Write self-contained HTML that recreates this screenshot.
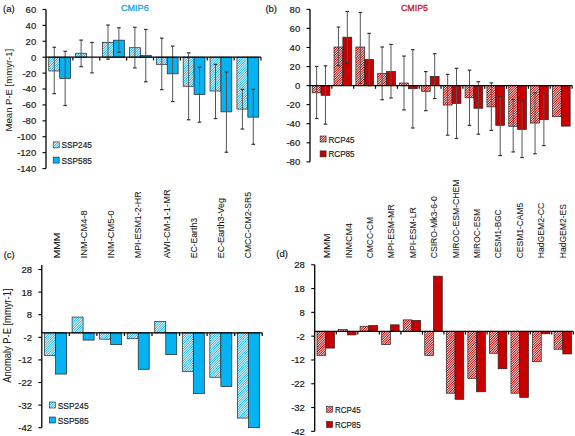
<!DOCTYPE html>
<html><head><meta charset="utf-8"><style>
html,body{margin:0;padding:0;background:#fff;width:575px;height:436px;overflow:hidden}
svg{display:block}
.t{font-family:"Liberation Sans", sans-serif;font-size:9.5px;fill:#1a1a1a;stroke:#1a1a1a;stroke-width:0.2px}
.ax{font-family:"Liberation Sans", sans-serif;font-size:10.2px;fill:#1a1a1a;stroke:#1a1a1a;stroke-width:0.05px}
.c{font-family:"Liberation Sans", sans-serif;font-size:9.2px;fill:#1a1a1a;stroke:#1a1a1a;stroke-width:0.08px}
</style></head><body>
<svg width="575" height="436" viewBox="0 0 575 436">
<defs>
<pattern id="hb" patternUnits="userSpaceOnUse" width="1.7" height="1.7" patternTransform="rotate(45)">
<rect width="1.7" height="1.7" fill="#ffffff"/><rect width="0.82" height="1.7" fill="#06B3F2"/></pattern>
<pattern id="hr" patternUnits="userSpaceOnUse" width="1.7" height="1.7" patternTransform="rotate(45)">
<rect width="1.7" height="1.7" fill="#ffffff"/><rect width="0.95" height="1.7" fill="#C80000"/></pattern>
</defs>
<rect x="48.80" y="57.20" width="10.90" height="13.78" fill="url(#hb)" stroke="#222" stroke-width="0.7"/>
<rect x="59.70" y="57.20" width="10.90" height="21.23" fill="#06B3F2" stroke="#222" stroke-width="0.7"/>
<rect x="75.67" y="53.24" width="10.90" height="3.96" fill="url(#hb)" stroke="#222" stroke-width="0.7"/>
<rect x="86.58" y="57.20" width="10.90" height="0.00" fill="#06B3F2" stroke="#222" stroke-width="0.7"/>
<rect x="102.55" y="42.35" width="10.90" height="14.85" fill="url(#hb)" stroke="#222" stroke-width="0.7"/>
<rect x="113.45" y="40.17" width="10.90" height="17.03" fill="#06B3F2" stroke="#222" stroke-width="0.7"/>
<rect x="129.43" y="47.70" width="10.90" height="9.50" fill="url(#hb)" stroke="#222" stroke-width="0.7"/>
<rect x="140.33" y="55.62" width="10.90" height="1.58" fill="#06B3F2" stroke="#222" stroke-width="0.7"/>
<rect x="156.30" y="57.20" width="10.90" height="7.13" fill="url(#hb)" stroke="#222" stroke-width="0.7"/>
<rect x="167.20" y="57.20" width="10.90" height="16.63" fill="#06B3F2" stroke="#222" stroke-width="0.7"/>
<rect x="183.18" y="57.20" width="10.90" height="29.07" fill="url(#hb)" stroke="#222" stroke-width="0.7"/>
<rect x="194.08" y="57.20" width="10.90" height="37.22" fill="#06B3F2" stroke="#222" stroke-width="0.7"/>
<rect x="210.05" y="57.20" width="10.90" height="33.82" fill="url(#hb)" stroke="#222" stroke-width="0.7"/>
<rect x="220.95" y="57.20" width="10.90" height="54.65" fill="#06B3F2" stroke="#222" stroke-width="0.7"/>
<rect x="236.93" y="57.20" width="10.90" height="51.88" fill="url(#hb)" stroke="#222" stroke-width="0.7"/>
<rect x="247.83" y="57.20" width="10.90" height="59.95" fill="#06B3F2" stroke="#222" stroke-width="0.7"/>
<line x1="54.25" y1="47.22" x2="54.25" y2="93.63" stroke="#555" stroke-width="1"/>
<line x1="52.45" y1="47.22" x2="56.05" y2="47.22" stroke="#333" stroke-width="1.2"/>
<line x1="52.45" y1="93.63" x2="56.05" y2="93.63" stroke="#333" stroke-width="1.2"/>
<line x1="65.15" y1="51.34" x2="65.15" y2="105.51" stroke="#555" stroke-width="1"/>
<line x1="63.35" y1="51.34" x2="66.95" y2="51.34" stroke="#333" stroke-width="1.2"/>
<line x1="63.35" y1="105.51" x2="66.95" y2="105.51" stroke="#333" stroke-width="1.2"/>
<line x1="81.12" y1="40.09" x2="81.12" y2="66.62" stroke="#555" stroke-width="1"/>
<line x1="79.33" y1="40.09" x2="82.92" y2="40.09" stroke="#333" stroke-width="1.2"/>
<line x1="79.33" y1="66.62" x2="82.92" y2="66.62" stroke="#333" stroke-width="1.2"/>
<line x1="92.03" y1="42.47" x2="92.03" y2="72.88" stroke="#555" stroke-width="1"/>
<line x1="90.23" y1="42.47" x2="93.83" y2="42.47" stroke="#333" stroke-width="1.2"/>
<line x1="90.23" y1="72.88" x2="93.83" y2="72.88" stroke="#333" stroke-width="1.2"/>
<line x1="108.00" y1="25.04" x2="108.00" y2="59.18" stroke="#555" stroke-width="1"/>
<line x1="106.20" y1="25.04" x2="109.80" y2="25.04" stroke="#333" stroke-width="1.2"/>
<line x1="106.20" y1="59.18" x2="109.80" y2="59.18" stroke="#333" stroke-width="1.2"/>
<line x1="118.90" y1="27.74" x2="118.90" y2="52.29" stroke="#555" stroke-width="1"/>
<line x1="117.10" y1="27.74" x2="120.70" y2="27.74" stroke="#333" stroke-width="1.2"/>
<line x1="117.10" y1="52.29" x2="120.70" y2="52.29" stroke="#333" stroke-width="1.2"/>
<line x1="134.88" y1="27.34" x2="134.88" y2="67.89" stroke="#555" stroke-width="1"/>
<line x1="133.07" y1="27.34" x2="136.68" y2="27.34" stroke="#333" stroke-width="1.2"/>
<line x1="133.07" y1="67.89" x2="136.68" y2="67.89" stroke="#333" stroke-width="1.2"/>
<line x1="145.78" y1="29.48" x2="145.78" y2="81.75" stroke="#555" stroke-width="1"/>
<line x1="143.97" y1="29.48" x2="147.58" y2="29.48" stroke="#333" stroke-width="1.2"/>
<line x1="143.97" y1="81.75" x2="147.58" y2="81.75" stroke="#333" stroke-width="1.2"/>
<line x1="161.75" y1="38.19" x2="161.75" y2="89.67" stroke="#555" stroke-width="1"/>
<line x1="159.95" y1="38.19" x2="163.55" y2="38.19" stroke="#333" stroke-width="1.2"/>
<line x1="159.95" y1="89.67" x2="163.55" y2="89.67" stroke="#333" stroke-width="1.2"/>
<line x1="172.65" y1="46.11" x2="172.65" y2="101.55" stroke="#555" stroke-width="1"/>
<line x1="170.85" y1="46.11" x2="174.45" y2="46.11" stroke="#333" stroke-width="1.2"/>
<line x1="170.85" y1="101.55" x2="174.45" y2="101.55" stroke="#333" stroke-width="1.2"/>
<line x1="188.62" y1="52.84" x2="188.62" y2="119.77" stroke="#555" stroke-width="1"/>
<line x1="186.82" y1="52.84" x2="190.43" y2="52.84" stroke="#333" stroke-width="1.2"/>
<line x1="186.82" y1="119.77" x2="190.43" y2="119.77" stroke="#333" stroke-width="1.2"/>
<line x1="199.53" y1="67.10" x2="199.53" y2="122.14" stroke="#555" stroke-width="1"/>
<line x1="197.72" y1="67.10" x2="201.33" y2="67.10" stroke="#333" stroke-width="1.2"/>
<line x1="197.72" y1="122.14" x2="201.33" y2="122.14" stroke="#333" stroke-width="1.2"/>
<line x1="215.50" y1="64.33" x2="215.50" y2="118.58" stroke="#555" stroke-width="1"/>
<line x1="213.70" y1="64.33" x2="217.30" y2="64.33" stroke="#333" stroke-width="1.2"/>
<line x1="213.70" y1="118.58" x2="217.30" y2="118.58" stroke="#333" stroke-width="1.2"/>
<line x1="226.40" y1="72.01" x2="226.40" y2="152.24" stroke="#555" stroke-width="1"/>
<line x1="224.60" y1="72.01" x2="228.20" y2="72.01" stroke="#333" stroke-width="1.2"/>
<line x1="224.60" y1="152.24" x2="228.20" y2="152.24" stroke="#333" stroke-width="1.2"/>
<line x1="242.38" y1="89.36" x2="242.38" y2="129.03" stroke="#555" stroke-width="1"/>
<line x1="240.57" y1="89.36" x2="244.18" y2="89.36" stroke="#333" stroke-width="1.2"/>
<line x1="240.57" y1="129.03" x2="244.18" y2="129.03" stroke="#333" stroke-width="1.2"/>
<line x1="253.28" y1="89.36" x2="253.28" y2="144.32" stroke="#555" stroke-width="1"/>
<line x1="251.47" y1="89.36" x2="255.08" y2="89.36" stroke="#333" stroke-width="1.2"/>
<line x1="251.47" y1="144.32" x2="255.08" y2="144.32" stroke="#333" stroke-width="1.2"/>
<line x1="46.00" y1="9.47" x2="46.00" y2="168.57" stroke="#000" stroke-width="1.3"/>
<line x1="42.50" y1="9.47" x2="46.00" y2="9.47" stroke="#000" stroke-width="1.1"/>
<text x="36.20" y="12.87" text-anchor="end" class="t">60</text>
<line x1="42.50" y1="25.38" x2="46.00" y2="25.38" stroke="#000" stroke-width="1.1"/>
<text x="36.20" y="28.78" text-anchor="end" class="t">40</text>
<line x1="42.50" y1="41.29" x2="46.00" y2="41.29" stroke="#000" stroke-width="1.1"/>
<text x="36.20" y="44.69" text-anchor="end" class="t">20</text>
<line x1="42.50" y1="57.20" x2="46.00" y2="57.20" stroke="#000" stroke-width="1.1"/>
<text x="36.20" y="60.60" text-anchor="end" class="t">0</text>
<line x1="42.50" y1="73.11" x2="46.00" y2="73.11" stroke="#000" stroke-width="1.1"/>
<text x="36.20" y="76.51" text-anchor="end" class="t">-20</text>
<line x1="42.50" y1="89.02" x2="46.00" y2="89.02" stroke="#000" stroke-width="1.1"/>
<text x="36.20" y="92.42" text-anchor="end" class="t">-40</text>
<line x1="42.50" y1="104.93" x2="46.00" y2="104.93" stroke="#000" stroke-width="1.1"/>
<text x="36.20" y="108.33" text-anchor="end" class="t">-60</text>
<line x1="42.50" y1="120.84" x2="46.00" y2="120.84" stroke="#000" stroke-width="1.1"/>
<text x="36.20" y="124.24" text-anchor="end" class="t">-80</text>
<line x1="42.50" y1="136.75" x2="46.00" y2="136.75" stroke="#000" stroke-width="1.1"/>
<text x="36.20" y="140.15" text-anchor="end" class="t">-100</text>
<line x1="42.50" y1="152.66" x2="46.00" y2="152.66" stroke="#000" stroke-width="1.1"/>
<text x="36.20" y="156.06" text-anchor="end" class="t">-120</text>
<line x1="42.50" y1="168.57" x2="46.00" y2="168.57" stroke="#000" stroke-width="1.1"/>
<text x="36.20" y="171.97" text-anchor="end" class="t">-140</text>
<line x1="46.00" y1="57.20" x2="261.00" y2="57.20" stroke="#000" stroke-width="1.3"/>
<line x1="72.88" y1="57.20" x2="72.88" y2="60.40" stroke="#000" stroke-width="1.2"/>
<line x1="99.75" y1="57.20" x2="99.75" y2="60.40" stroke="#000" stroke-width="1.2"/>
<line x1="126.62" y1="57.20" x2="126.62" y2="60.40" stroke="#000" stroke-width="1.2"/>
<line x1="153.50" y1="57.20" x2="153.50" y2="60.40" stroke="#000" stroke-width="1.2"/>
<line x1="180.38" y1="57.20" x2="180.38" y2="60.40" stroke="#000" stroke-width="1.2"/>
<line x1="207.25" y1="57.20" x2="207.25" y2="60.40" stroke="#000" stroke-width="1.2"/>
<line x1="234.12" y1="57.20" x2="234.12" y2="60.40" stroke="#000" stroke-width="1.2"/>
<line x1="261.00" y1="57.20" x2="261.00" y2="60.40" stroke="#000" stroke-width="1.2"/>
<rect x="312.20" y="85.60" width="8.85" height="7.24" fill="url(#hr)" stroke="#222" stroke-width="0.7"/>
<rect x="321.05" y="85.60" width="8.85" height="9.72" fill="#C80000" stroke="#222" stroke-width="0.7"/>
<rect x="334.04" y="47.00" width="8.85" height="38.60" fill="url(#hr)" stroke="#222" stroke-width="0.7"/>
<rect x="342.89" y="37.19" width="8.85" height="48.41" fill="#C80000" stroke="#222" stroke-width="0.7"/>
<rect x="355.88" y="47.00" width="8.85" height="38.60" fill="url(#hr)" stroke="#222" stroke-width="0.7"/>
<rect x="364.73" y="59.49" width="8.85" height="26.11" fill="#C80000" stroke="#222" stroke-width="0.7"/>
<rect x="377.72" y="73.59" width="8.85" height="12.01" fill="url(#hr)" stroke="#222" stroke-width="0.7"/>
<rect x="386.57" y="71.50" width="8.85" height="14.10" fill="#C80000" stroke="#222" stroke-width="0.7"/>
<rect x="399.56" y="83.03" width="8.85" height="2.57" fill="url(#hr)" stroke="#222" stroke-width="0.7"/>
<rect x="408.41" y="85.60" width="8.85" height="3.14" fill="#C80000" stroke="#222" stroke-width="0.7"/>
<rect x="421.40" y="85.60" width="8.85" height="5.72" fill="url(#hr)" stroke="#222" stroke-width="0.7"/>
<rect x="430.25" y="76.36" width="8.85" height="9.24" fill="#C80000" stroke="#222" stroke-width="0.7"/>
<rect x="443.24" y="85.60" width="8.85" height="19.44" fill="url(#hr)" stroke="#222" stroke-width="0.7"/>
<rect x="452.09" y="85.60" width="8.85" height="17.82" fill="#C80000" stroke="#222" stroke-width="0.7"/>
<rect x="465.08" y="85.60" width="8.85" height="12.20" fill="url(#hr)" stroke="#222" stroke-width="0.7"/>
<rect x="473.93" y="85.60" width="8.85" height="22.68" fill="#C80000" stroke="#222" stroke-width="0.7"/>
<rect x="486.92" y="85.60" width="8.85" height="21.25" fill="url(#hr)" stroke="#222" stroke-width="0.7"/>
<rect x="495.77" y="85.60" width="8.85" height="39.74" fill="#C80000" stroke="#222" stroke-width="0.7"/>
<rect x="508.76" y="85.60" width="8.85" height="40.69" fill="url(#hr)" stroke="#222" stroke-width="0.7"/>
<rect x="517.61" y="85.60" width="8.85" height="43.74" fill="#C80000" stroke="#222" stroke-width="0.7"/>
<rect x="530.60" y="85.60" width="8.85" height="37.45" fill="url(#hr)" stroke="#222" stroke-width="0.7"/>
<rect x="539.45" y="85.60" width="8.85" height="34.12" fill="#C80000" stroke="#222" stroke-width="0.7"/>
<rect x="552.44" y="85.60" width="8.85" height="31.16" fill="url(#hr)" stroke="#222" stroke-width="0.7"/>
<rect x="561.29" y="85.60" width="8.85" height="40.50" fill="#C80000" stroke="#222" stroke-width="0.7"/>
<line x1="316.62" y1="66.44" x2="316.62" y2="118.48" stroke="#555" stroke-width="1"/>
<line x1="314.82" y1="66.44" x2="318.43" y2="66.44" stroke="#333" stroke-width="1.2"/>
<line x1="314.82" y1="118.48" x2="318.43" y2="118.48" stroke="#333" stroke-width="1.2"/>
<line x1="325.48" y1="65.78" x2="325.48" y2="124.20" stroke="#555" stroke-width="1"/>
<line x1="323.68" y1="65.78" x2="327.28" y2="65.78" stroke="#333" stroke-width="1.2"/>
<line x1="323.68" y1="124.20" x2="327.28" y2="124.20" stroke="#333" stroke-width="1.2"/>
<line x1="338.46" y1="27.09" x2="338.46" y2="65.68" stroke="#555" stroke-width="1"/>
<line x1="336.66" y1="27.09" x2="340.26" y2="27.09" stroke="#333" stroke-width="1.2"/>
<line x1="336.66" y1="65.68" x2="340.26" y2="65.68" stroke="#333" stroke-width="1.2"/>
<line x1="347.31" y1="11.46" x2="347.31" y2="62.73" stroke="#555" stroke-width="1"/>
<line x1="345.51" y1="11.46" x2="349.12" y2="11.46" stroke="#333" stroke-width="1.2"/>
<line x1="345.51" y1="62.73" x2="349.12" y2="62.73" stroke="#333" stroke-width="1.2"/>
<line x1="360.31" y1="12.50" x2="360.31" y2="83.41" stroke="#555" stroke-width="1"/>
<line x1="358.50" y1="12.50" x2="362.11" y2="12.50" stroke="#333" stroke-width="1.2"/>
<line x1="358.50" y1="83.41" x2="362.11" y2="83.41" stroke="#333" stroke-width="1.2"/>
<line x1="369.16" y1="33.38" x2="369.16" y2="85.60" stroke="#555" stroke-width="1"/>
<line x1="367.36" y1="33.38" x2="370.96" y2="33.38" stroke="#333" stroke-width="1.2"/>
<line x1="367.36" y1="85.60" x2="370.96" y2="85.60" stroke="#333" stroke-width="1.2"/>
<line x1="382.14" y1="47.00" x2="382.14" y2="99.70" stroke="#555" stroke-width="1"/>
<line x1="380.34" y1="47.00" x2="383.94" y2="47.00" stroke="#333" stroke-width="1.2"/>
<line x1="380.34" y1="99.70" x2="383.94" y2="99.70" stroke="#333" stroke-width="1.2"/>
<line x1="391.00" y1="44.43" x2="391.00" y2="97.99" stroke="#555" stroke-width="1"/>
<line x1="389.19" y1="44.43" x2="392.80" y2="44.43" stroke="#333" stroke-width="1.2"/>
<line x1="389.19" y1="97.99" x2="392.80" y2="97.99" stroke="#333" stroke-width="1.2"/>
<line x1="403.99" y1="56.06" x2="403.99" y2="109.90" stroke="#555" stroke-width="1"/>
<line x1="402.19" y1="56.06" x2="405.79" y2="56.06" stroke="#333" stroke-width="1.2"/>
<line x1="402.19" y1="109.90" x2="405.79" y2="109.90" stroke="#333" stroke-width="1.2"/>
<line x1="412.84" y1="49.67" x2="412.84" y2="128.01" stroke="#555" stroke-width="1"/>
<line x1="411.04" y1="49.67" x2="414.64" y2="49.67" stroke="#333" stroke-width="1.2"/>
<line x1="411.04" y1="128.01" x2="414.64" y2="128.01" stroke="#333" stroke-width="1.2"/>
<line x1="425.82" y1="71.59" x2="425.82" y2="110.66" stroke="#555" stroke-width="1"/>
<line x1="424.02" y1="71.59" x2="427.62" y2="71.59" stroke="#333" stroke-width="1.2"/>
<line x1="424.02" y1="110.66" x2="427.62" y2="110.66" stroke="#333" stroke-width="1.2"/>
<line x1="434.68" y1="53.67" x2="434.68" y2="98.56" stroke="#555" stroke-width="1"/>
<line x1="432.88" y1="53.67" x2="436.48" y2="53.67" stroke="#333" stroke-width="1.2"/>
<line x1="432.88" y1="98.56" x2="436.48" y2="98.56" stroke="#333" stroke-width="1.2"/>
<line x1="447.66" y1="74.35" x2="447.66" y2="135.16" stroke="#555" stroke-width="1"/>
<line x1="445.86" y1="74.35" x2="449.46" y2="74.35" stroke="#333" stroke-width="1.2"/>
<line x1="445.86" y1="135.16" x2="449.46" y2="135.16" stroke="#333" stroke-width="1.2"/>
<line x1="456.51" y1="68.26" x2="456.51" y2="138.49" stroke="#555" stroke-width="1"/>
<line x1="454.71" y1="68.26" x2="458.31" y2="68.26" stroke="#333" stroke-width="1.2"/>
<line x1="454.71" y1="138.49" x2="458.31" y2="138.49" stroke="#333" stroke-width="1.2"/>
<line x1="469.50" y1="70.16" x2="469.50" y2="125.34" stroke="#555" stroke-width="1"/>
<line x1="467.70" y1="70.16" x2="471.31" y2="70.16" stroke="#333" stroke-width="1.2"/>
<line x1="467.70" y1="125.34" x2="471.31" y2="125.34" stroke="#333" stroke-width="1.2"/>
<line x1="478.36" y1="81.69" x2="478.36" y2="134.20" stroke="#555" stroke-width="1"/>
<line x1="476.56" y1="81.69" x2="480.16" y2="81.69" stroke="#333" stroke-width="1.2"/>
<line x1="476.56" y1="134.20" x2="480.16" y2="134.20" stroke="#333" stroke-width="1.2"/>
<line x1="491.35" y1="82.93" x2="491.35" y2="130.39" stroke="#555" stroke-width="1"/>
<line x1="489.55" y1="82.93" x2="493.15" y2="82.93" stroke="#333" stroke-width="1.2"/>
<line x1="489.55" y1="130.39" x2="493.15" y2="130.39" stroke="#333" stroke-width="1.2"/>
<line x1="500.20" y1="96.37" x2="500.20" y2="155.55" stroke="#555" stroke-width="1"/>
<line x1="498.40" y1="96.37" x2="502.00" y2="96.37" stroke="#333" stroke-width="1.2"/>
<line x1="498.40" y1="155.55" x2="502.00" y2="155.55" stroke="#333" stroke-width="1.2"/>
<line x1="513.18" y1="99.61" x2="513.18" y2="151.93" stroke="#555" stroke-width="1"/>
<line x1="511.38" y1="99.61" x2="514.98" y2="99.61" stroke="#333" stroke-width="1.2"/>
<line x1="511.38" y1="151.93" x2="514.98" y2="151.93" stroke="#333" stroke-width="1.2"/>
<line x1="522.03" y1="101.04" x2="522.03" y2="157.55" stroke="#555" stroke-width="1"/>
<line x1="520.24" y1="101.04" x2="523.83" y2="101.04" stroke="#333" stroke-width="1.2"/>
<line x1="520.24" y1="157.55" x2="523.83" y2="157.55" stroke="#333" stroke-width="1.2"/>
<line x1="535.02" y1="92.84" x2="535.02" y2="153.74" stroke="#555" stroke-width="1"/>
<line x1="533.23" y1="92.84" x2="536.82" y2="92.84" stroke="#333" stroke-width="1.2"/>
<line x1="533.23" y1="153.74" x2="536.82" y2="153.74" stroke="#333" stroke-width="1.2"/>
<line x1="543.88" y1="93.51" x2="543.88" y2="145.64" stroke="#555" stroke-width="1"/>
<line x1="542.08" y1="93.51" x2="545.67" y2="93.51" stroke="#333" stroke-width="1.2"/>
<line x1="542.08" y1="145.64" x2="545.67" y2="145.64" stroke="#333" stroke-width="1.2"/>
<line x1="310.00" y1="9.36" x2="310.00" y2="161.84" stroke="#000" stroke-width="1.3"/>
<line x1="306.50" y1="9.36" x2="310.00" y2="9.36" stroke="#000" stroke-width="1.1"/>
<text x="300.20" y="12.76" text-anchor="end" class="t">80</text>
<line x1="306.50" y1="28.42" x2="310.00" y2="28.42" stroke="#000" stroke-width="1.1"/>
<text x="300.20" y="31.82" text-anchor="end" class="t">60</text>
<line x1="306.50" y1="47.48" x2="310.00" y2="47.48" stroke="#000" stroke-width="1.1"/>
<text x="300.20" y="50.88" text-anchor="end" class="t">40</text>
<line x1="306.50" y1="66.54" x2="310.00" y2="66.54" stroke="#000" stroke-width="1.1"/>
<text x="300.20" y="69.94" text-anchor="end" class="t">20</text>
<line x1="306.50" y1="85.60" x2="310.00" y2="85.60" stroke="#000" stroke-width="1.1"/>
<text x="300.20" y="89.00" text-anchor="end" class="t">0</text>
<line x1="306.50" y1="104.66" x2="310.00" y2="104.66" stroke="#000" stroke-width="1.1"/>
<text x="300.20" y="108.06" text-anchor="end" class="t">-20</text>
<line x1="306.50" y1="123.72" x2="310.00" y2="123.72" stroke="#000" stroke-width="1.1"/>
<text x="300.20" y="127.12" text-anchor="end" class="t">-40</text>
<line x1="306.50" y1="142.78" x2="310.00" y2="142.78" stroke="#000" stroke-width="1.1"/>
<text x="300.20" y="146.18" text-anchor="end" class="t">-60</text>
<line x1="306.50" y1="161.84" x2="310.00" y2="161.84" stroke="#000" stroke-width="1.1"/>
<text x="300.20" y="165.24" text-anchor="end" class="t">-80</text>
<line x1="310.00" y1="85.60" x2="572.08" y2="85.60" stroke="#000" stroke-width="1.3"/>
<line x1="331.84" y1="85.60" x2="331.84" y2="88.80" stroke="#000" stroke-width="1.2"/>
<line x1="353.68" y1="85.60" x2="353.68" y2="88.80" stroke="#000" stroke-width="1.2"/>
<line x1="375.52" y1="85.60" x2="375.52" y2="88.80" stroke="#000" stroke-width="1.2"/>
<line x1="397.36" y1="85.60" x2="397.36" y2="88.80" stroke="#000" stroke-width="1.2"/>
<line x1="419.20" y1="85.60" x2="419.20" y2="88.80" stroke="#000" stroke-width="1.2"/>
<line x1="441.04" y1="85.60" x2="441.04" y2="88.80" stroke="#000" stroke-width="1.2"/>
<line x1="462.88" y1="85.60" x2="462.88" y2="88.80" stroke="#000" stroke-width="1.2"/>
<line x1="484.72" y1="85.60" x2="484.72" y2="88.80" stroke="#000" stroke-width="1.2"/>
<line x1="506.56" y1="85.60" x2="506.56" y2="88.80" stroke="#000" stroke-width="1.2"/>
<line x1="528.40" y1="85.60" x2="528.40" y2="88.80" stroke="#000" stroke-width="1.2"/>
<line x1="550.24" y1="85.60" x2="550.24" y2="88.80" stroke="#000" stroke-width="1.2"/>
<line x1="572.08" y1="85.60" x2="572.08" y2="88.80" stroke="#000" stroke-width="1.2"/>
<rect x="44.55" y="332.80" width="11.00" height="22.57" fill="url(#hb)" stroke="#222" stroke-width="0.7"/>
<rect x="55.55" y="332.80" width="11.00" height="41.27" fill="#06B3F2" stroke="#222" stroke-width="0.7"/>
<rect x="72.10" y="317.07" width="11.00" height="15.73" fill="url(#hb)" stroke="#222" stroke-width="0.7"/>
<rect x="83.10" y="332.80" width="11.00" height="7.30" fill="#06B3F2" stroke="#222" stroke-width="0.7"/>
<rect x="99.65" y="332.80" width="11.00" height="6.38" fill="url(#hb)" stroke="#222" stroke-width="0.7"/>
<rect x="110.65" y="332.80" width="11.00" height="11.86" fill="#06B3F2" stroke="#222" stroke-width="0.7"/>
<rect x="127.20" y="332.80" width="11.00" height="5.93" fill="url(#hb)" stroke="#222" stroke-width="0.7"/>
<rect x="138.20" y="332.80" width="11.00" height="36.48" fill="#06B3F2" stroke="#222" stroke-width="0.7"/>
<rect x="154.75" y="321.40" width="11.00" height="11.40" fill="url(#hb)" stroke="#222" stroke-width="0.7"/>
<rect x="165.75" y="332.80" width="11.00" height="21.89" fill="#06B3F2" stroke="#222" stroke-width="0.7"/>
<rect x="182.30" y="332.80" width="11.00" height="38.53" fill="url(#hb)" stroke="#222" stroke-width="0.7"/>
<rect x="193.30" y="332.80" width="11.00" height="60.88" fill="#06B3F2" stroke="#222" stroke-width="0.7"/>
<rect x="209.85" y="332.80" width="11.00" height="44.46" fill="url(#hb)" stroke="#222" stroke-width="0.7"/>
<rect x="220.85" y="332.80" width="11.00" height="53.81" fill="#06B3F2" stroke="#222" stroke-width="0.7"/>
<rect x="237.40" y="332.80" width="11.00" height="85.27" fill="url(#hb)" stroke="#222" stroke-width="0.7"/>
<rect x="248.40" y="332.80" width="11.00" height="94.85" fill="#06B3F2" stroke="#222" stroke-width="0.7"/>
<line x1="41.80" y1="265.00" x2="41.80" y2="427.72" stroke="#000" stroke-width="1.3"/>
<line x1="38.30" y1="269.52" x2="41.80" y2="269.52" stroke="#000" stroke-width="1.1"/>
<text x="32.00" y="272.92" text-anchor="end" class="t">28</text>
<line x1="38.30" y1="292.12" x2="41.80" y2="292.12" stroke="#000" stroke-width="1.1"/>
<text x="32.00" y="295.52" text-anchor="end" class="t">18</text>
<line x1="38.30" y1="314.72" x2="41.80" y2="314.72" stroke="#000" stroke-width="1.1"/>
<text x="32.00" y="318.12" text-anchor="end" class="t">8</text>
<line x1="38.30" y1="337.32" x2="41.80" y2="337.32" stroke="#000" stroke-width="1.1"/>
<text x="32.00" y="340.72" text-anchor="end" class="t">-2</text>
<line x1="38.30" y1="359.92" x2="41.80" y2="359.92" stroke="#000" stroke-width="1.1"/>
<text x="32.00" y="363.32" text-anchor="end" class="t">-12</text>
<line x1="38.30" y1="382.52" x2="41.80" y2="382.52" stroke="#000" stroke-width="1.1"/>
<text x="32.00" y="385.92" text-anchor="end" class="t">-22</text>
<line x1="38.30" y1="405.12" x2="41.80" y2="405.12" stroke="#000" stroke-width="1.1"/>
<text x="32.00" y="408.52" text-anchor="end" class="t">-32</text>
<line x1="38.30" y1="427.72" x2="41.80" y2="427.72" stroke="#000" stroke-width="1.1"/>
<text x="32.00" y="431.12" text-anchor="end" class="t">-42</text>
<line x1="41.80" y1="332.80" x2="262.20" y2="332.80" stroke="#000" stroke-width="1.3"/>
<line x1="69.35" y1="332.80" x2="69.35" y2="336.00" stroke="#000" stroke-width="1.2"/>
<line x1="96.90" y1="332.80" x2="96.90" y2="336.00" stroke="#000" stroke-width="1.2"/>
<line x1="124.45" y1="332.80" x2="124.45" y2="336.00" stroke="#000" stroke-width="1.2"/>
<line x1="152.00" y1="332.80" x2="152.00" y2="336.00" stroke="#000" stroke-width="1.2"/>
<line x1="179.55" y1="332.80" x2="179.55" y2="336.00" stroke="#000" stroke-width="1.2"/>
<line x1="207.10" y1="332.80" x2="207.10" y2="336.00" stroke="#000" stroke-width="1.2"/>
<line x1="234.65" y1="332.80" x2="234.65" y2="336.00" stroke="#000" stroke-width="1.2"/>
<line x1="262.20" y1="332.80" x2="262.20" y2="336.00" stroke="#000" stroke-width="1.2"/>
<rect x="317.00" y="331.40" width="8.75" height="23.97" fill="url(#hr)" stroke="#222" stroke-width="0.7"/>
<rect x="325.75" y="331.40" width="8.75" height="16.69" fill="#C80000" stroke="#222" stroke-width="0.7"/>
<rect x="338.55" y="329.52" width="8.75" height="1.88" fill="url(#hr)" stroke="#222" stroke-width="0.7"/>
<rect x="347.30" y="331.40" width="8.75" height="3.52" fill="#C80000" stroke="#222" stroke-width="0.7"/>
<rect x="360.10" y="326.23" width="8.75" height="5.17" fill="url(#hr)" stroke="#222" stroke-width="0.7"/>
<rect x="368.85" y="325.52" width="8.75" height="5.88" fill="#C80000" stroke="#222" stroke-width="0.7"/>
<rect x="381.65" y="331.40" width="8.75" height="13.16" fill="url(#hr)" stroke="#222" stroke-width="0.7"/>
<rect x="390.40" y="324.82" width="8.75" height="6.58" fill="#C80000" stroke="#222" stroke-width="0.7"/>
<rect x="403.20" y="319.88" width="8.75" height="11.51" fill="url(#hr)" stroke="#222" stroke-width="0.7"/>
<rect x="411.95" y="320.35" width="8.75" height="11.05" fill="#C80000" stroke="#222" stroke-width="0.7"/>
<rect x="424.75" y="331.40" width="8.75" height="23.97" fill="url(#hr)" stroke="#222" stroke-width="0.7"/>
<rect x="433.50" y="276.17" width="8.75" height="55.23" fill="#C80000" stroke="#222" stroke-width="0.7"/>
<rect x="446.30" y="331.40" width="8.75" height="61.81" fill="url(#hr)" stroke="#222" stroke-width="0.7"/>
<rect x="455.05" y="331.40" width="8.75" height="67.92" fill="#C80000" stroke="#222" stroke-width="0.7"/>
<rect x="467.85" y="331.40" width="8.75" height="47.00" fill="url(#hr)" stroke="#222" stroke-width="0.7"/>
<rect x="476.60" y="331.40" width="8.75" height="60.39" fill="#C80000" stroke="#222" stroke-width="0.7"/>
<rect x="489.40" y="331.40" width="8.75" height="21.86" fill="url(#hr)" stroke="#222" stroke-width="0.7"/>
<rect x="498.15" y="331.40" width="8.75" height="37.37" fill="#C80000" stroke="#222" stroke-width="0.7"/>
<rect x="510.95" y="331.40" width="8.75" height="61.81" fill="url(#hr)" stroke="#222" stroke-width="0.7"/>
<rect x="519.70" y="331.40" width="8.75" height="66.04" fill="#C80000" stroke="#222" stroke-width="0.7"/>
<rect x="532.50" y="331.40" width="8.75" height="30.31" fill="url(#hr)" stroke="#222" stroke-width="0.7"/>
<rect x="541.25" y="331.40" width="8.75" height="2.35" fill="#C80000" stroke="#222" stroke-width="0.7"/>
<rect x="554.05" y="331.40" width="8.75" height="17.86" fill="url(#hr)" stroke="#222" stroke-width="0.7"/>
<rect x="562.80" y="331.40" width="8.75" height="22.56" fill="#C80000" stroke="#222" stroke-width="0.7"/>
<line x1="314.70" y1="264.76" x2="314.70" y2="431.36" stroke="#000" stroke-width="1.3"/>
<line x1="311.20" y1="264.76" x2="314.70" y2="264.76" stroke="#000" stroke-width="1.1"/>
<text x="304.90" y="268.16" text-anchor="end" class="t">28</text>
<line x1="311.20" y1="288.56" x2="314.70" y2="288.56" stroke="#000" stroke-width="1.1"/>
<text x="304.90" y="291.96" text-anchor="end" class="t">18</text>
<line x1="311.20" y1="312.36" x2="314.70" y2="312.36" stroke="#000" stroke-width="1.1"/>
<text x="304.90" y="315.76" text-anchor="end" class="t">8</text>
<line x1="311.20" y1="336.16" x2="314.70" y2="336.16" stroke="#000" stroke-width="1.1"/>
<text x="304.90" y="339.56" text-anchor="end" class="t">-2</text>
<line x1="311.20" y1="359.96" x2="314.70" y2="359.96" stroke="#000" stroke-width="1.1"/>
<text x="304.90" y="363.36" text-anchor="end" class="t">-12</text>
<line x1="311.20" y1="383.76" x2="314.70" y2="383.76" stroke="#000" stroke-width="1.1"/>
<text x="304.90" y="387.16" text-anchor="end" class="t">-22</text>
<line x1="311.20" y1="407.56" x2="314.70" y2="407.56" stroke="#000" stroke-width="1.1"/>
<text x="304.90" y="410.96" text-anchor="end" class="t">-32</text>
<line x1="311.20" y1="431.36" x2="314.70" y2="431.36" stroke="#000" stroke-width="1.1"/>
<text x="304.90" y="434.76" text-anchor="end" class="t">-42</text>
<line x1="314.70" y1="331.40" x2="573.30" y2="331.40" stroke="#000" stroke-width="1.3"/>
<line x1="336.25" y1="331.40" x2="336.25" y2="334.60" stroke="#000" stroke-width="1.2"/>
<line x1="357.80" y1="331.40" x2="357.80" y2="334.60" stroke="#000" stroke-width="1.2"/>
<line x1="379.35" y1="331.40" x2="379.35" y2="334.60" stroke="#000" stroke-width="1.2"/>
<line x1="400.90" y1="331.40" x2="400.90" y2="334.60" stroke="#000" stroke-width="1.2"/>
<line x1="422.45" y1="331.40" x2="422.45" y2="334.60" stroke="#000" stroke-width="1.2"/>
<line x1="444.00" y1="331.40" x2="444.00" y2="334.60" stroke="#000" stroke-width="1.2"/>
<line x1="465.55" y1="331.40" x2="465.55" y2="334.60" stroke="#000" stroke-width="1.2"/>
<line x1="487.10" y1="331.40" x2="487.10" y2="334.60" stroke="#000" stroke-width="1.2"/>
<line x1="508.65" y1="331.40" x2="508.65" y2="334.60" stroke="#000" stroke-width="1.2"/>
<line x1="530.20" y1="331.40" x2="530.20" y2="334.60" stroke="#000" stroke-width="1.2"/>
<line x1="551.75" y1="331.40" x2="551.75" y2="334.60" stroke="#000" stroke-width="1.2"/>
<line x1="573.30" y1="331.40" x2="573.30" y2="334.60" stroke="#000" stroke-width="1.2"/>
<text transform="translate(59.60,258.30) rotate(-90)" x="0" y="0" class="c" textLength="25.50" lengthAdjust="spacingAndGlyphs">MMM</text>
<text transform="translate(86.90,258.30) rotate(-90)" x="0" y="0" class="c" textLength="48.10" lengthAdjust="spacingAndGlyphs">INM-CM4-8</text>
<text transform="translate(113.90,258.30) rotate(-90)" x="0" y="0" class="c" textLength="48.10" lengthAdjust="spacingAndGlyphs">INM-CM5-0</text>
<text transform="translate(140.90,258.30) rotate(-90)" x="0" y="0" class="c" textLength="66.90" lengthAdjust="spacingAndGlyphs">MPI-ESM1-2-HR</text>
<text transform="translate(169.60,258.30) rotate(-90)" x="0" y="0" class="c" textLength="68.90" lengthAdjust="spacingAndGlyphs">AWI-CM-1-1-MR</text>
<text transform="translate(196.70,258.30) rotate(-90)" x="0" y="0" class="c" textLength="40.30" lengthAdjust="spacingAndGlyphs">EC-Earth3</text>
<text transform="translate(223.90,258.30) rotate(-90)" x="0" y="0" class="c" textLength="60.20" lengthAdjust="spacingAndGlyphs">EC-Earth3-Veg</text>
<text transform="translate(251.00,258.30) rotate(-90)" x="0" y="0" class="c" textLength="66.40" lengthAdjust="spacingAndGlyphs">CMCC-CM2-SR5</text>
<text transform="translate(330.20,258.30) rotate(-90)" x="0" y="0" class="c" textLength="25.00" lengthAdjust="spacingAndGlyphs">MMM</text>
<text transform="translate(351.61,258.30) rotate(-90)" x="0" y="0" class="c" textLength="35.20" lengthAdjust="spacingAndGlyphs">INMCM4</text>
<text transform="translate(373.02,258.30) rotate(-90)" x="0" y="0" class="c" textLength="41.30" lengthAdjust="spacingAndGlyphs">CMCC-CM</text>
<text transform="translate(394.43,258.30) rotate(-90)" x="0" y="0" class="c" textLength="54.00" lengthAdjust="spacingAndGlyphs">MPI-ESM-MR</text>
<text transform="translate(415.84,258.30) rotate(-90)" x="0" y="0" class="c" textLength="51.00" lengthAdjust="spacingAndGlyphs">MPI-ESM-LR</text>
<text transform="translate(437.25,258.30) rotate(-90)" x="0" y="0" class="c" textLength="62.00" lengthAdjust="spacingAndGlyphs">CSIRO-Mk3-6-0</text>
<text transform="translate(458.66,258.30) rotate(-90)" x="0" y="0" class="c" textLength="78.80" lengthAdjust="spacingAndGlyphs">MIROC-ESM-CHEM</text>
<text transform="translate(480.07,258.30) rotate(-90)" x="0" y="0" class="c" textLength="49.30" lengthAdjust="spacingAndGlyphs">MIROC-ESM</text>
<text transform="translate(501.48,258.30) rotate(-90)" x="0" y="0" class="c" textLength="48.80" lengthAdjust="spacingAndGlyphs">CESM1-BGC</text>
<text transform="translate(522.89,258.30) rotate(-90)" x="0" y="0" class="c" textLength="55.60" lengthAdjust="spacingAndGlyphs">CESM1-CAM5</text>
<text transform="translate(544.30,258.30) rotate(-90)" x="0" y="0" class="c" textLength="55.60" lengthAdjust="spacingAndGlyphs">HadGEM2-CC</text>
<text transform="translate(565.71,258.30) rotate(-90)" x="0" y="0" class="c" textLength="54.30" lengthAdjust="spacingAndGlyphs">HadGEM2-ES</text>
<text x="3" y="12.3" class="t">(a)</text>
<text x="265.4" y="12.3" class="t">(b)</text>
<text x="3.7" y="258.4" class="t">(c)</text>
<text x="276.3" y="257.4" class="t">(d)</text>
<text x="121.0" y="11.4" class="t" style="fill:#1BA3DD;stroke:#1BA3DD;stroke-width:0.3px" textLength="27.7" lengthAdjust="spacingAndGlyphs">CMIP6</text>
<text x="400.9" y="11.4" class="t" style="fill:#BF1A1A;stroke:#BF1A1A;stroke-width:0.3px" textLength="27.1" lengthAdjust="spacingAndGlyphs">CMIP5</text>
<text transform="translate(11.9,131.4) rotate(-90)" class="ax" style="font-size:9.4px" textLength="82.6" lengthAdjust="spacingAndGlyphs">Mean P-E [mmyr-1]</text>
<text transform="translate(10.6,382.8) rotate(-90)" class="ax" textLength="94.3" lengthAdjust="spacingAndGlyphs">Anomaly P-E [mmyr-1]</text>
<rect x="53.20" y="141.90" width="6" height="6" fill="url(#hb)" stroke="#222" stroke-width="0.6"/>
<text x="61.60" y="148.40" class="t" style="font-size:9.8px" textLength="30.30" lengthAdjust="spacingAndGlyphs">SSP245</text>
<rect x="53.20" y="157.10" width="6" height="6" fill="#06B3F2" stroke="#222" stroke-width="0.6"/>
<text x="61.60" y="163.60" class="t" style="font-size:9.8px" textLength="30.30" lengthAdjust="spacingAndGlyphs">SSP585</text>
<rect x="320.10" y="136.00" width="6" height="6" fill="url(#hr)" stroke="#222" stroke-width="0.6"/>
<text x="328.50" y="142.50" class="t" style="font-size:9.8px" textLength="26.10" lengthAdjust="spacingAndGlyphs">RCP45</text>
<rect x="320.10" y="150.90" width="6" height="6" fill="#C80000" stroke="#222" stroke-width="0.6"/>
<text x="328.50" y="157.40" class="t" style="font-size:9.8px" textLength="26.10" lengthAdjust="spacingAndGlyphs">RCP85</text>
<rect x="49.30" y="402.00" width="6" height="6" fill="url(#hb)" stroke="#222" stroke-width="0.6"/>
<text x="57.70" y="408.50" class="t" style="font-size:9.8px" textLength="30.90" lengthAdjust="spacingAndGlyphs">SSP245</text>
<rect x="49.30" y="417.00" width="6" height="6" fill="#06B3F2" stroke="#222" stroke-width="0.6"/>
<text x="57.70" y="423.50" class="t" style="font-size:9.8px" textLength="30.90" lengthAdjust="spacingAndGlyphs">SSP585</text>
<rect x="326.50" y="406.20" width="6" height="6" fill="url(#hr)" stroke="#222" stroke-width="0.6"/>
<text x="334.90" y="412.70" class="t" style="font-size:9.8px" textLength="25.80" lengthAdjust="spacingAndGlyphs">RCP45</text>
<rect x="326.50" y="421.50" width="6" height="6" fill="#C80000" stroke="#222" stroke-width="0.6"/>
<text x="334.90" y="428.00" class="t" style="font-size:9.8px" textLength="25.80" lengthAdjust="spacingAndGlyphs">RCP85</text>
</svg></body></html>
